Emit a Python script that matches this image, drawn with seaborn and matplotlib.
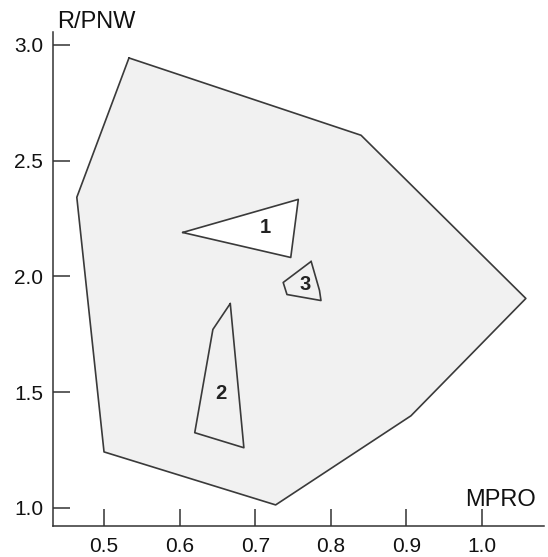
import numpy as np
import pandas as pd
import matplotlib
matplotlib.use("Agg")
import matplotlib.pyplot as plt
from matplotlib.path import Path
from matplotlib.patches import PathPatch
import seaborn as sns

# Outer boundary of the domain (MPRO, R/PNW)
outer_x = [0.533, 0.840, 1.058, 0.906, 0.727, 0.500, 0.464]
outer_y = [2.944, 2.610, 1.905, 1.398, 1.013, 1.242, 2.342]

# Excluded regions
hole1_x = [0.604, 0.757, 0.747]
hole1_y = [2.190, 2.333, 2.082]
hole2_x = [0.667, 0.644, 0.620, 0.685]
hole2_y = [1.883, 1.771, 1.325, 1.260]
hole3_x = [0.774, 0.737, 0.742, 0.787, 0.785]
hole3_y = [2.065, 1.974, 1.922, 1.896, 1.940]

# Region labels
label_text = ["1", "2", "3"]
label_x = [0.713, 0.655, 0.766]
label_y = [2.212, 1.494, 1.965]

x_ticks = [0.5, 0.6, 0.7, 0.8, 0.9, 1.0]
y_ticks = [1.0, 1.5, 2.0, 2.5, 3.0]

sns.set_theme(style="ticks")
plt.rcParams["font.family"] = ["Liberation Sans", "DejaVu Sans"]

fig = plt.figure(figsize=(5.48, 5.57), dpi=100)
ax = fig.add_axes([0.0967, 0.0557, 0.896, 0.8868])

def ring(xs, ys):
    pts = list(zip(xs, ys)) + [(xs[0], ys[0])]
    codes = [Path.MOVETO] + [Path.LINETO] * (len(xs) - 1) + [Path.CLOSEPOLY]
    return pts, codes

verts, codes = [], []
for xs, ys in [(outer_x, outer_y), (hole1_x[::-1], hole1_y[::-1]),
               (hole2_x[::-1], hole2_y[::-1]), (hole3_x[::-1], hole3_y[::-1])]:
    p, c = ring(xs, ys)
    verts += p
    codes += c
ax.add_patch(PathPatch(Path(verts, codes), facecolor="#f1f1f1", edgecolor="none", zorder=1))

edge = "#3a3a3a"
for xs, ys in [(outer_x, outer_y), (hole1_x, hole1_y),
               (hole2_x, hole2_y), (hole3_x, hole3_y)]:
    df = pd.DataFrame({"x": xs + [xs[0]], "y": ys + [ys[0]]})
    sns.lineplot(data=df, x="x", y="y", sort=False, estimator=None, color=edge,
                 linewidth=1.2, ax=ax, zorder=3)

for t, lx, ly in zip(label_text, label_x, label_y):
    ax.text(lx, ly, t, ha="center", va="center", fontsize=14.5, fontweight="bold",
            color="#222222", zorder=4)

ax.set_xlim(0.4325, 1.082)
ax.set_ylim(0.922, 3.056)
ax.set_xticks(x_ticks)
ax.set_yticks(y_ticks)
ax.set_xticklabels([f"{v:.1f}" for v in x_ticks])
ax.set_yticklabels([f"{v:.1f}" for v in y_ticks])
ax.tick_params(axis="x", direction="in", length=12, width=1.1, pad=8,
               labelsize=15, colors="#333333", labelcolor="#111111")
ax.tick_params(axis="y", direction="in", length=12, width=1.1, pad=7,
               labelsize=15, colors="#333333", labelcolor="#111111")
for s in ["top", "right"]:
    ax.spines[s].set_visible(False)
for s in ["left", "bottom"]:
    ax.spines[s].set_color("#333333")
    ax.spines[s].set_linewidth(1.1)

ax.set_xlabel("")
ax.set_ylabel("")
ax.text(1.025, 1.035, "MPRO", ha="center", va="center", fontsize=17, color="#111111")
ax.text(0.490, 3.098, "R/PNW", ha="center", va="center", fontsize=17, color="#111111",
        clip_on=False)

fig.savefig("out.png", dpi=100, facecolor="white")
